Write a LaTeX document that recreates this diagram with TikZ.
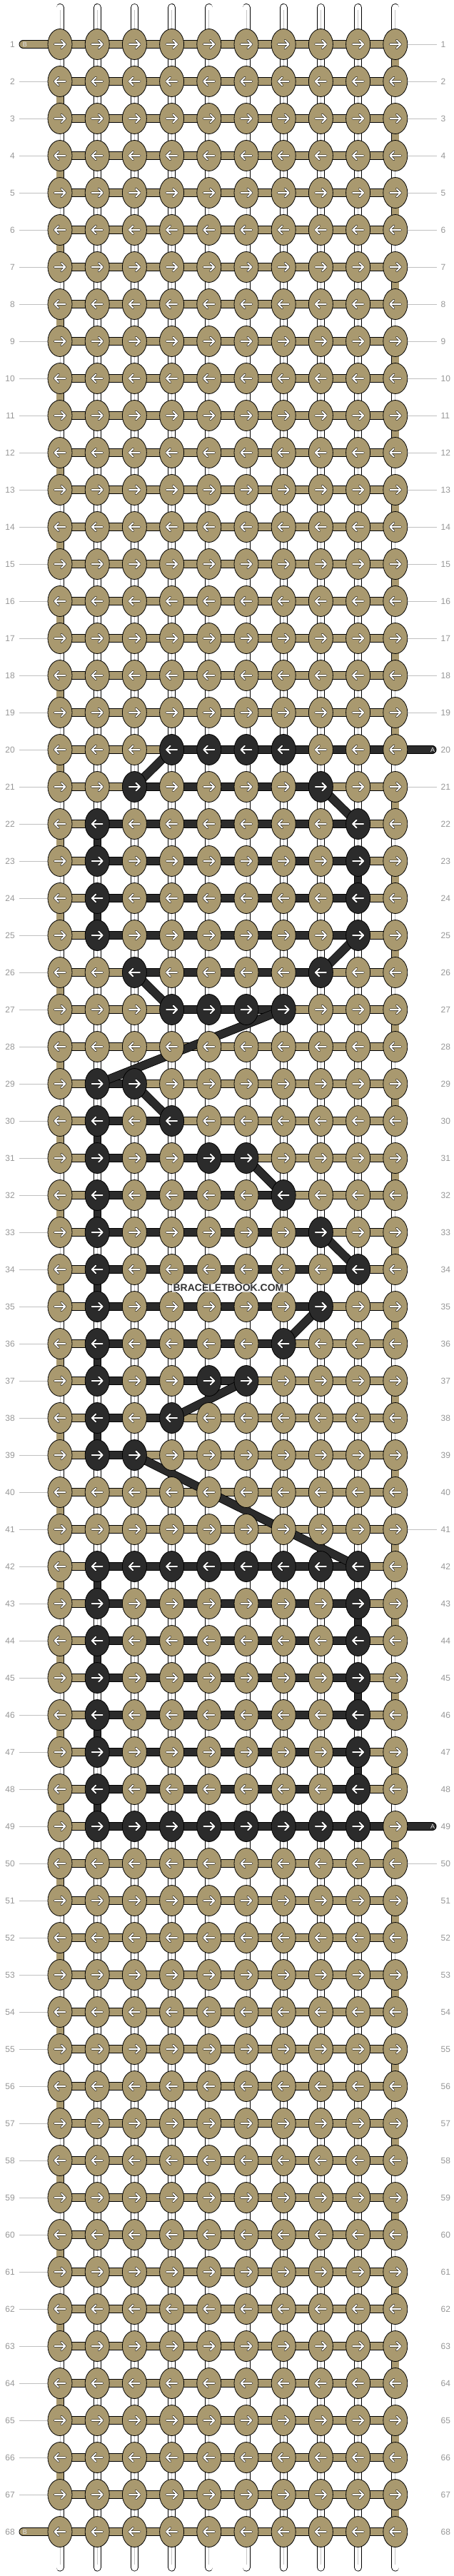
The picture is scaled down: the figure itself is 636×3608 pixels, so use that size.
\documentclass[tikz,border=0pt]{standalone}
\usepackage{fontspec}
\setmainfont{Liberation Sans}
\usetikzlibrary{shapes.geometric}
\pgfdeclarelayer{bg}
\pgfsetlayers{bg,main}
\definecolor{knottan}{RGB}{169,153,111}
\definecolor{knotdark}{RGB}{43,43,43}
\definecolor{rowgray}{RGB}{150,150,150}
\definecolor{guidegray}{RGB}{192,192,192}
\tikzset{
	knot/.style={ellipse, draw=black, line width=0.8pt, minimum width=34pt, minimum height=43pt, inner sep=0pt},
	arr/.style={draw=black, double=white, double distance=2pt, line width=0.5pt, line cap=round, line join=round},
	warp/.style={draw=black, double=white, double distance=9.4pt, line width=0.8pt, line cap=round},
	warpmid/.style={draw=gray!45, line width=0.7pt, shorten <=4pt, shorten >=4pt},
	tandrop/.style={draw=black, double=knottan, double distance=9.4pt, line width=0.8pt},
	darkdrop/.style={draw=black, double=knotdark, double distance=9.4pt, line width=0.8pt},
	tanbar/.style={draw=black, double=knottan, double distance=10.4pt, line width=0.8pt},
	darkbar/.style={draw=black, double=knotdark, double distance=10.4pt, line width=0.8pt},
	numlbl/.style={text=rowgray, font=\fontsize{12}{12}\selectfont, inner sep=0pt},
	guide/.style={draw=guidegray, line width=0.9pt},
	endlbl/.style={text=white!90!black, font=\fontsize{9}{9}\selectfont, inner sep=0pt},
	stamp/.style={fill=white, fill opacity=0.75, text opacity=1, text=black!80, inner sep=1.5pt, font=\fontsize{14}{14}\selectfont\bfseries}
}
% rows of the pattern: row/{dark knots}, row/first/last dark bar, row/col of a dark drop, diagonals
\def\darkknots{20/{4,5,6,7},21/{3,8},22/{2,9},23/{2,9},24/{2,9},25/{2,9},26/{3,8},27/{4,5,6,7},29/{2,3},30/{2,4},31/{2,5,6},32/{2,7},33/{2,8},34/{2,9},35/{2,8},36/{2,7},37/{2,5,6},38/{2,4},39/{2,3},42/{2,...,9},43/{2,9},44/{2,9},45/{2,9},46/{2,9},47/{2,9},48/{2,9},49/{2,...,9}}
\def\darkruns{20/4/10,21/3/8,22/2/9,23/2/9,24/2/9,25/2/9,26/3/8,27/4/7,29/2/3,30/2/4,31/2/6,32/2/7,33/2/8,34/2/9,35/2/8,36/2/7,37/2/6,38/2/4,39/2/3,42/2/9,43/2/9,44/2/9,45/2/9,46/2/9,47/2/9,48/2/9,49/2/10}
\def\darkdrops{22/2,23/9,24/2,30/2,32/2,34/2,36/2,38/2,42/2,43/9,44/2,45/9,46/2,47/9,48/2}
\def\diagonals{20/4/21/3,21/8/22/9,25/9/26/8,26/3/27/4,27/7/29/2,29/3/30/4,31/6/32/7,33/8/34/9,35/8/36/7,37/6/38/4,39/3/42/9}

\begin{document}
\begin{tikzpicture}[x=1pt,y=-1pt]
	\useasboundingbox (0,0) rectangle (636,3608);
	\foreach \r/\cs in \darkknots
		\foreach \c in \cs
			{\expandafter\gdef\csname dk-\r-\c\endcsname{}}

	\foreach \r in {1,...,68}
		\foreach \c in {1,...,10}{
			\ifcsname dk-\r-\c\endcsname\def\kfill{knotdark}\else\def\kfill{knottan}\fi
			\node[knot, fill=\kfill] (k-\r-\c) at ({84+52.2*(\c-1)},{62+52*(\r-1)}) {};
		}
	\foreach \r in {1,...,68}{
		\ifodd\r\relax\def\dir{1}\else\def\dir{-1}\fi
		\foreach \c in {1,...,10}
			\draw[arr, shift={(k-\r-\c.center)}] ({-7.5*\dir},0) -- ({7.5*\dir},0) ({2*\dir},-5.5) -- ({7.5*\dir},0) -- ({2*\dir},5.5);
	}
	\foreach \r in {1,...,68}{
		\node[numlbl, anchor=east] (nl-\r) at (21,{62+52*(\r-1)}) {\r};
		\node[numlbl, anchor=west] (nr-\r) at (617.5,{62+52*(\r-1)}) {\r};
	}
	\foreach \r in {1,68}
		\node[endlbl] (b-\r) at (35,{62+52*(\r-1)}) {B};
	\foreach \r in {20,49}
		\node[endlbl] (a-\r) at (606,{62+52*(\r-1)}) {A};
	\node[stamp] (wm) at (320,1804) {BRACELETBOOK.COM};

	\begin{pgfonlayer}{bg}
		\foreach \c in {1,...,10}{
			\coordinate (top-\c) at ({84+52.2*(\c-1)},10.5);
			\coordinate (bot-\c) at ({84+52.2*(\c-1)},3596);
			\draw[warp] (top-\c) -- (bot-\c);
			\draw[warpmid] (top-\c) -- (bot-\c);
		}
		\foreach \r [evaluate=\r as \s using {int(\r+1)}, evaluate=\r as \e using {int(mod(\r,2)*9+1)}] in {1,...,67}
			\draw[tandrop] (k-\r-\e.center) -- (k-\s-\e.center);
		\foreach \r/\c [evaluate=\r as \s using {int(\r+1)}] in \darkdrops
			\draw[darkdrop] (k-\r-\c.center) -- (k-\s-\c.center);
		\foreach \r in {1,...,68}
			\draw[tanbar] (k-\r-1.center) -- (k-\r-10.center);
		\foreach \r/\ca/\cb in \darkruns
			\draw[darkbar] (k-\r-\ca.center) -- (k-\r-\cb.center);
		\foreach \r in {1,68}
			\draw[tanbar, line cap=round] ([xshift=-2.5pt]b-\r.center) -- (k-\r-1.center);
		\foreach \r in {20,49}
			\draw[darkbar, line cap=round] (k-\r-10.center) -- ([xshift=-0.5pt]a-\r.center);
		\foreach \ra/\ca/\rb/\cb in \diagonals
			\draw[darkbar] (k-\ra-\ca.center) -- (k-\rb-\cb.center);
		\foreach \r in {2,...,67}
			\draw[guide] ([xshift=5.5pt]nl-\r.east) -- (k-\r-1.center);
		\foreach \r in {1,...,19,21,...,48,50,...,68}
			\draw[guide] (k-\r-10.center) -- ([xshift=-6pt]nr-\r.west);
	\end{pgfonlayer}
\end{tikzpicture}
\end{document}
